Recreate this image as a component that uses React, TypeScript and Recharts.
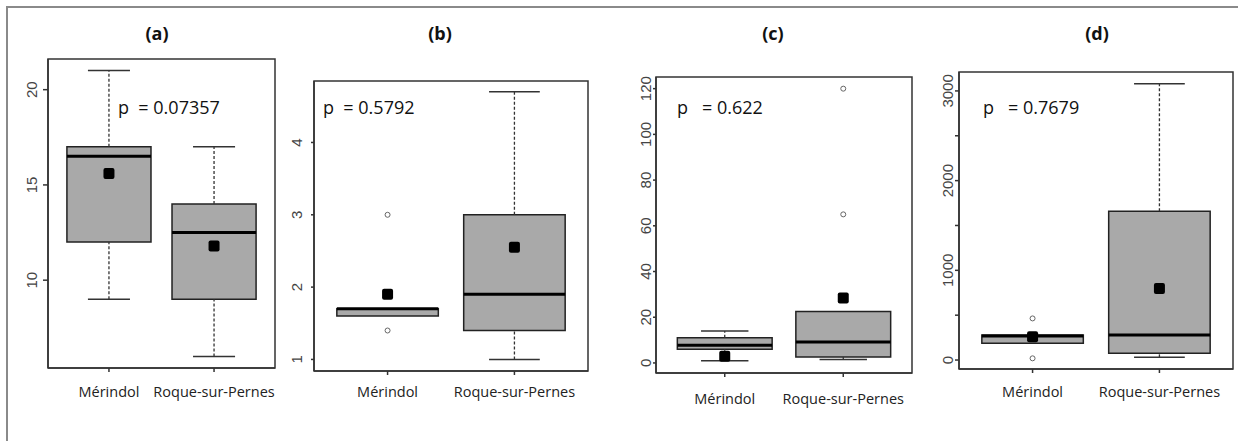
import React from 'react';
import { ComposedChart, XAxis, YAxis, Scatter, ReferenceArea, ReferenceLine } from 'recharts';

// categories shared by the four panels
const categories = ['Mérindol', 'Roque-sur-Pernes'];
const panelTitles = ['(a)', '(b)', '(c)', '(d)'];
const pValues = ['0.07357', '0.5792', '0.622', '0.7679'];

// box statistics, one pair [Mérindol, Roque-sur-Pernes] per panel
const whiskerLow = [[9, 6], [1.6, 1.0], [1, 1.5], [186, 30]];
const q1 = [[12, 9], [1.6, 1.4], [6, 2.6], [186, 75]];
const median = [[16.5, 12.5], [1.7, 1.9], [7.7, 9.2], [267, 280]];
const q3 = [[17, 14], [1.7, 3.0], [11, 22.5], [278, 1659]];
const whiskerHigh = [[21, 17], [1.7, 4.7], [14, 22.5], [278, 3080]];
const means = [[15.6, 11.8], [1.9, 2.55], [2.9, 28.4], [260, 798]];
const outliers = [[[], []], [[3.0, 1.4], []], [[], [65, 120]], [[464, 19], []]];

// axis ranges and ticks
const yDomains = [[5.39, 21.61], [0.84, 4.85], [-4.4, 125.1], [-100, 3211]];
const yTicks = [
  [10, 15, 20],
  [1, 2, 3, 4],
  [0, 20, 40, 60, 80, 100, 120],
  [0, 500, 1000, 1500, 2000, 2500, 3000],
];
const yLabelEvery = [5, 1, 20, 1000];

// layout of each panel (plot frame in page pixels)
const frames = [
  { l: 48, t: 59, r: 275, b: 368, tick: 5, lab: 16, catY: 397, title: 157, pX: 118, gap: 2 },
  { l: 314, t: 81, r: 588, b: 371, tick: 3, lab: 17, catY: 397, title: 440, pX: 323, gap: 2 },
  { l: 656, t: 77, r: 912, b: 373, tick: 3, lab: 10.5, catY: 404, title: 773, pX: 677, gap: 3 },
  { l: 959, t: 72, r: 1233, b: 369, tick: 4, lab: 11, catY: 397, title: 1097, pX: 983, gap: 3 },
];

const W = 1238;
const H = 441;
const X_DOMAIN = [0.42, 2.58];
const BOX_HALF = 0.4;
const CAP_HALF = 0.2;
const BOX_FILL = '#a9a9a9';
const INK = '#222';

const MeanShape = (p: any) => (
  <rect x={p.cx - 5.5} y={p.cy - 5.5} width={11} height={11} rx={2} fill="#000" />
);
const OutlierShape = (p: any) => (
  <circle cx={p.cx} cy={p.cy} r={2.5} fill="#fff" stroke="#666" strokeWidth={1} />
);

const Panel: React.FC<{ i: number }> = ({ i }) => {
  const f = frames[i];
  const padL = 60;
  const padR = 6;
  const axisW = 40;
  const axisH = 40;
  const width = f.r - f.l + padL + padR;
  const [lo, hi] = yDomains[i];

  const meanData = means[i].map((m, k) => ({ x: k + 1, y: m }));
  const outData = outliers[i].flatMap((vals, k) => vals.map((v) => ({ x: k + 1, y: v })));

  const YTick = (p: any) => {
    const v = p.payload.value;
    if (Math.round(v / yLabelEvery[i]) * yLabelEvery[i] !== v) return <g />;
    const px = p.x + f.tick - f.lab; // p.x sits at axis - tickSize
    return (
      <text
        x={px}
        y={p.y}
        transform={`rotate(-90, ${px}, ${p.y})`}
        textAnchor="middle"
        dominantBaseline="central"
        fontFamily="'Liberation Sans', Arial, sans-serif"
        fontSize={15}
        fill="#444"
      >
        {v}
      </text>
    );
  };

  const XTick = (p: any) => (
    <text
      x={p.x}
      y={f.catY - f.b + (p.y - 4)}
      textAnchor="middle"
      fontFamily="'Open Sans', sans-serif"
      fontSize={14.5}
      fill="#222"
    >
      {categories[p.payload.value - 1]}
    </text>
  );

  return (
    <div style={{ position: 'absolute', left: f.l - padL, top: 0, width, height: H }}>
      <ComposedChart
        width={width}
        height={H}
        margin={{ top: f.t, right: padR, bottom: H - f.b - axisH, left: padL - axisW }}
      >
        <XAxis
          type="number"
          dataKey="x"
          domain={X_DOMAIN}
          allowDataOverflow
          ticks={[1, 2]}
          height={axisH}
          tickSize={4}
          tickMargin={0}
          stroke="#333"
          strokeWidth={1.5}
          tick={<XTick />}
        />
        <YAxis
          type="number"
          dataKey="y"
          domain={[lo, hi]}
          allowDataOverflow
          ticks={yTicks[i]}
          width={axisW}
          tickSize={f.tick}
          tickMargin={0}
          stroke="#333"
          strokeWidth={1.5}
          tick={<YTick />}
        />
        {/* frame */}
        <ReferenceArea
          x1={X_DOMAIN[0]}
          x2={X_DOMAIN[1]}
          y1={lo}
          y2={hi}
          fill="none"
          stroke="#333"
          strokeWidth={1.5}
          ifOverflow="visible"
        />
        {categories.map((_, k) => {
          const c = k + 1;
          const els: React.ReactNode[] = [];
          if (whiskerHigh[i][k] > q3[i][k]) {
            els.push(
              <ReferenceLine key={`wh${k}`} segment={[{ x: c, y: q3[i][k] }, { x: c, y: whiskerHigh[i][k] }]}
                stroke="#333" strokeWidth={1.3} strokeDasharray="3 2" ifOverflow="visible" />,
              <ReferenceLine key={`ch${k}`} segment={[{ x: c - CAP_HALF, y: whiskerHigh[i][k] }, { x: c + CAP_HALF, y: whiskerHigh[i][k] }]}
                stroke="#333" strokeWidth={1.5} ifOverflow="visible" />
            );
          }
          if (whiskerLow[i][k] < q1[i][k]) {
            els.push(
              <ReferenceLine key={`wl${k}`} segment={[{ x: c, y: whiskerLow[i][k] }, { x: c, y: q1[i][k] }]}
                stroke="#333" strokeWidth={1.3} strokeDasharray="3 2" ifOverflow="visible" />,
              <ReferenceLine key={`cl${k}`} segment={[{ x: c - CAP_HALF, y: whiskerLow[i][k] }, { x: c + CAP_HALF, y: whiskerLow[i][k] }]}
                stroke="#333" strokeWidth={1.5} ifOverflow="visible" />
            );
          }
          els.push(
            <ReferenceArea key={`b${k}`} x1={c - BOX_HALF} x2={c + BOX_HALF} y1={q1[i][k]} y2={q3[i][k]}
              fill={BOX_FILL} fillOpacity={1} stroke={INK} strokeWidth={1.5} ifOverflow="visible" />,
            <ReferenceLine key={`m${k}`} segment={[{ x: c - BOX_HALF, y: median[i][k] }, { x: c + BOX_HALF, y: median[i][k] }]}
              stroke="#000" strokeWidth={3} ifOverflow="visible" />
          );
          return els;
        })}
        <Scatter data={outData} shape={<OutlierShape />} isAnimationActive={false} />
        <Scatter data={meanData} shape={<MeanShape />} isAnimationActive={false} />
      </ComposedChart>
    </div>
  );
};

const App: React.FC = () => (
  <div style={{ position: 'absolute', left: 0, top: 0, width: W, height: H, background: '#fff', overflow: 'hidden' }}>
    <div
      style={{
        position: 'absolute', left: 6, top: 6, width: W, height: H,
        borderTop: '2px solid #8a8a8a', borderLeft: '2px solid #8a8a8a',
      }}
    />
    {panelTitles.map((t, i) => (
      <div
        key={t}
        style={{
          position: 'absolute', left: frames[i].title - 40, top: 21, width: 80, textAlign: 'center',
          fontFamily: "'Open Sans', sans-serif", fontWeight: 700, fontSize: 18, lineHeight: '24px', color: '#111',
        }}
      >
        {t}
      </div>
    ))}
    {[0, 1, 2, 3].map((i) => <Panel key={i} i={i} />)}
    {pValues.map((p, i) => (
      <div
        key={p}
        style={{
          position: 'absolute', left: frames[i].pX, top: 94, whiteSpace: 'pre',
          fontFamily: "'Open Sans', sans-serif", fontSize: 18, lineHeight: '26px', color: '#111',
        }}
      >
        {'p' + ' '.repeat(frames[i].gap) + '= ' + p}
      </div>
    ))}
  </div>
);

export default App;
